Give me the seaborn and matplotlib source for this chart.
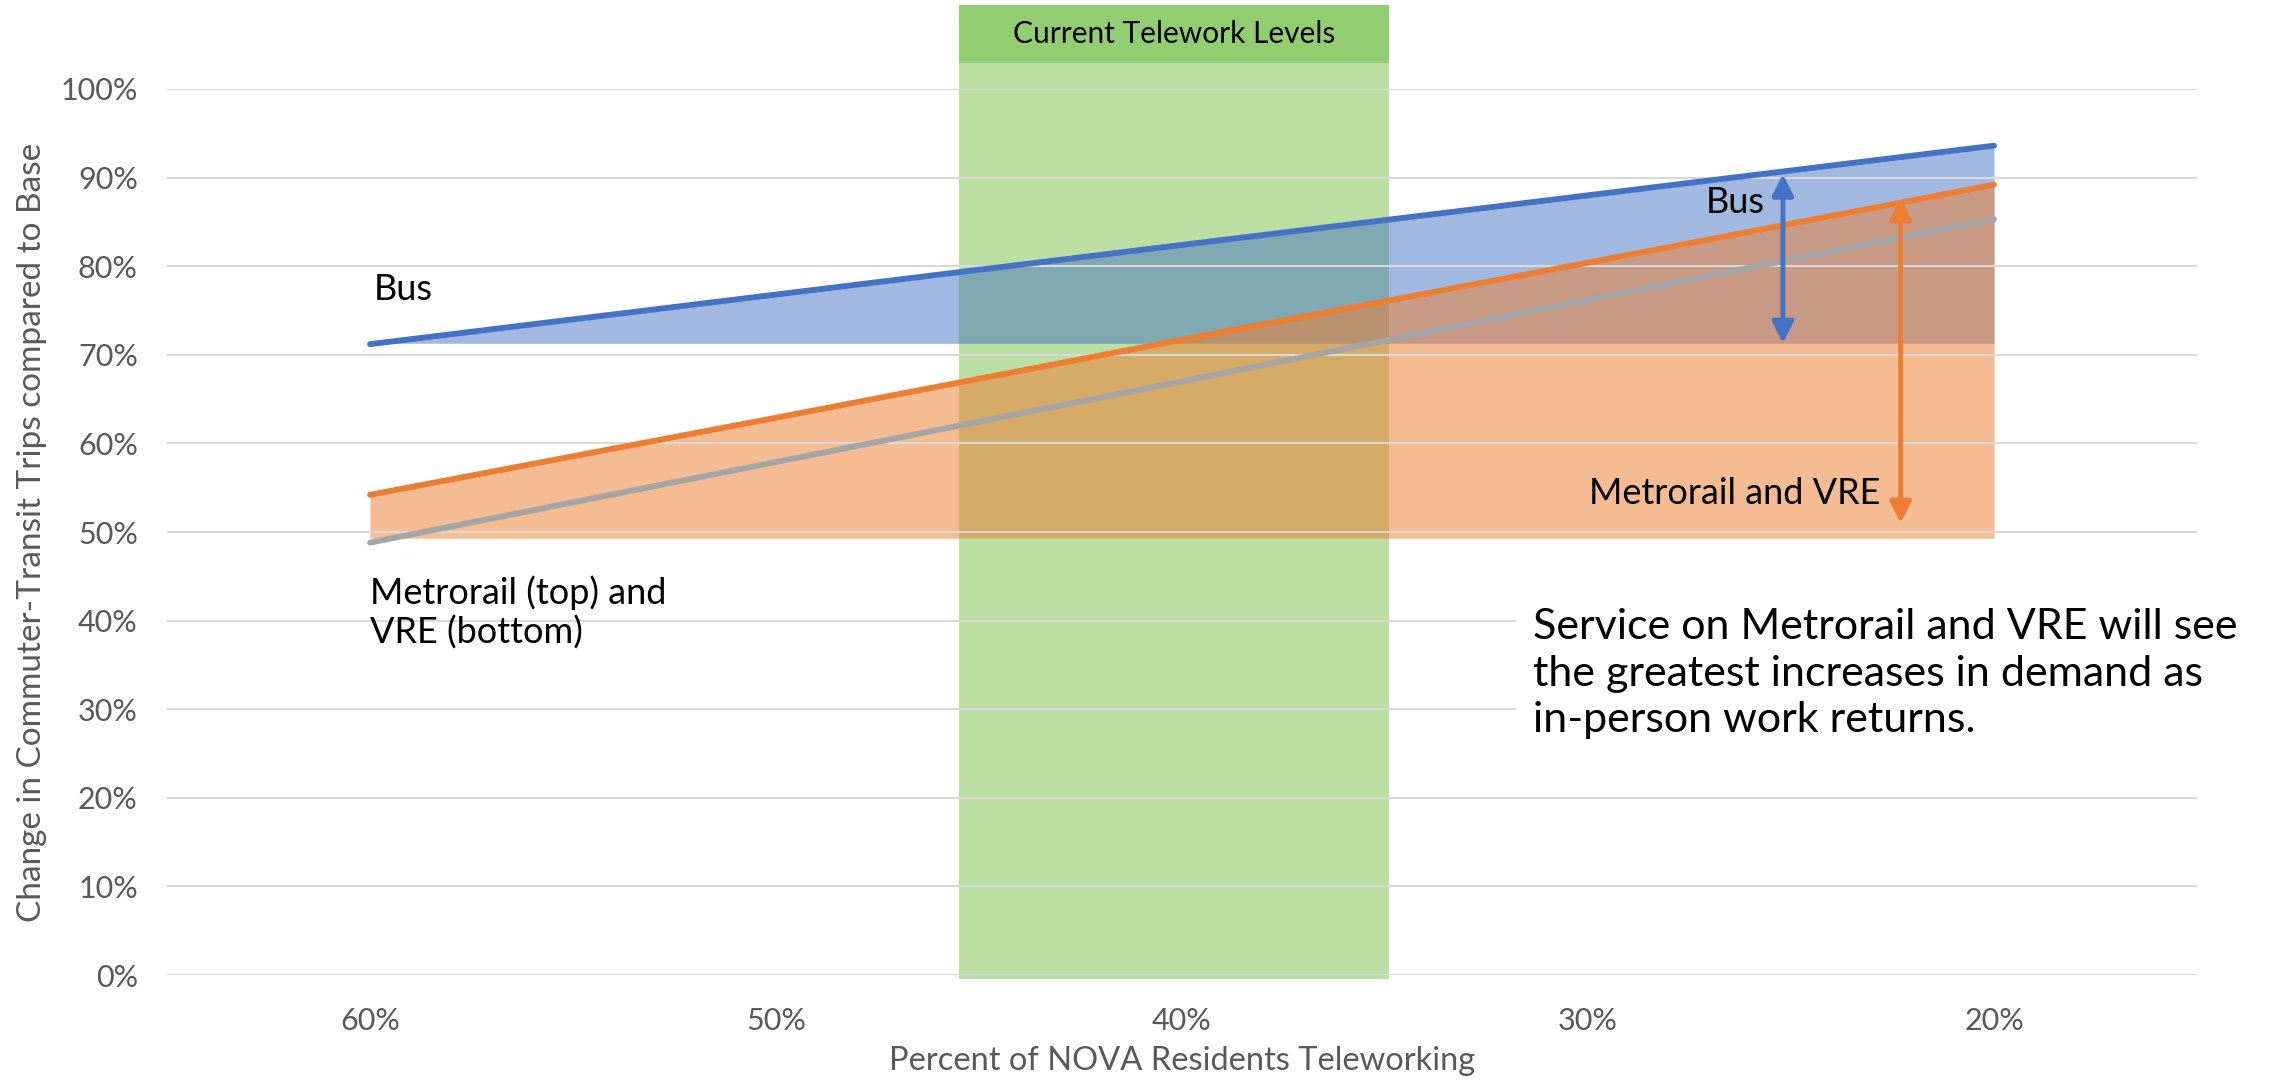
import pandas as pd
import matplotlib.pyplot as plt
import seaborn as sns
from matplotlib.patches import Rectangle

sns.set_theme(style="white")
plt.rcParams['font.family'] = ['Lato', 'DejaVu Sans']

# Dados (% de viagens em relação à base)
teleworking = ["60%", "50%", "40%", "30%", "20%"]
bus = [71.2, 76.8, 82.4, 88.0, 93.6]
metrorail = [54.2, 62.9, 71.7, 80.4, 89.2]
vre = [48.8, 57.9, 67.0, 76.2, 85.3]
bus_base = 71.3
rail_base = 49.3
y_ticks = [0, 10, 20, 30, 40, 50, 60, 70, 80, 90, 100]

positions = list(range(len(teleworking)))
df = pd.DataFrame({
    "pos": positions * 3,
    "value": bus + metrorail + vre,
    "mode": ["Bus"] * 5 + ["Metrorail"] * 5 + ["VRE"] * 5,
})
palette = {"Bus": "#4472C4", "Metrorail": "#ED7D31", "VRE": "#A5A5A5"}

fig = plt.figure(figsize=(22.72, 10.81), dpi=100)
ax = fig.add_axes([0.0735, 0.098, 0.8935, 0.8197])

# faixa verde: níveis atuais de teletrabalho
ax.add_patch(Rectangle((1.45, -0.45), 1.06, 103.35, facecolor="#BBDFA2",
                       edgecolor="none", zorder=0.5, clip_on=False))
ax.add_patch(Rectangle((1.45, 102.9), 1.06, 6.6, facecolor="#92CD72",
                       edgecolor="none", zorder=0.5, clip_on=False))
ax.text(1.98, 106.2, "Current Telework Levels", ha="center", va="center",
        fontsize=21.5, color="black", clip_on=False)

# áreas de aumento
ax.fill_between(positions, bus, bus_base, color="#4472C4", alpha=0.5,
                linewidth=0, zorder=1)
ax.fill_between(positions, metrorail, rail_base, color="#ED7D31", alpha=0.52,
                linewidth=0, zorder=1.1)

sns.lineplot(data=df, x="pos", y="value", hue="mode", palette=palette,
             linewidth=4.2, legend=False, ax=ax, zorder=3,
             solid_capstyle="round", errorbar=None)

# setas
ax.annotate("", xy=(3.48, 90.4), xytext=(3.48, 71.3),
            arrowprops=dict(arrowstyle="<|-|>,head_length=0.4,head_width=0.2",
                            color="#4472C4", lw=3.5, mutation_scale=32,
                            shrinkA=0, shrinkB=0), zorder=4)
ax.annotate("", xy=(3.77, 87.7), xytext=(3.77, 51.0),
            arrowprops=dict(arrowstyle="<|-|>,head_length=0.4,head_width=0.2",
                            color="#ED7D31", lw=3.5, mutation_scale=32,
                            shrinkA=0, shrinkB=0), zorder=4)

ax.text(0.01, 77.4, "Bus", ha="left", va="center", fontsize=26, color="black")
ax.text(0.0, 40.9, "Metrorail (top) and\nVRE (bottom)", ha="left", va="center",
        fontsize=26, color="black", linespacing=1.2)
ax.text(3.436, 87.2, "Bus", ha="right", va="center", fontsize=26, color="black")
ax.text(3.72, 54.4, "Metrorail and VRE", ha="right", va="center", fontsize=26,
        color="black")
ax.text(2.865, 34.0,
        "Service on Metrorail and VRE will see\nthe greatest increases in demand as\nin-person work returns.",
        ha="left", va="center", fontsize=31, color="black", linespacing=1.28,
        bbox=dict(facecolor="white", edgecolor="none", pad=12), zorder=5)

ax.set_xlim(-0.5, 4.5)
ax.set_ylim(0, 100)
ax.set_xticks(positions, teleworking)
ax.set_yticks(y_ticks, [f"{v}%" for v in y_ticks])
ax.tick_params(axis="both", length=0, labelsize=22, labelcolor="#595959")
ax.tick_params(axis="y", pad=21)
ax.tick_params(axis="x", pad=23)
ax.set_axisbelow(False)
ax.yaxis.grid(True, color="#D9D9D9", linewidth=1.5, zorder=2.5)
ax.xaxis.grid(False)
for s in ax.spines.values():
    s.set_visible(False)

ax.set_xlabel("Percent of NOVA Residents Teleworking", fontsize=23.5,
              color="#595959", labelpad=8)
ax.set_ylabel("Change in Commuter-Transit Trips compared to Base", fontsize=24,
              color="#595959", labelpad=10)

fig.savefig("out.png", dpi=100)
